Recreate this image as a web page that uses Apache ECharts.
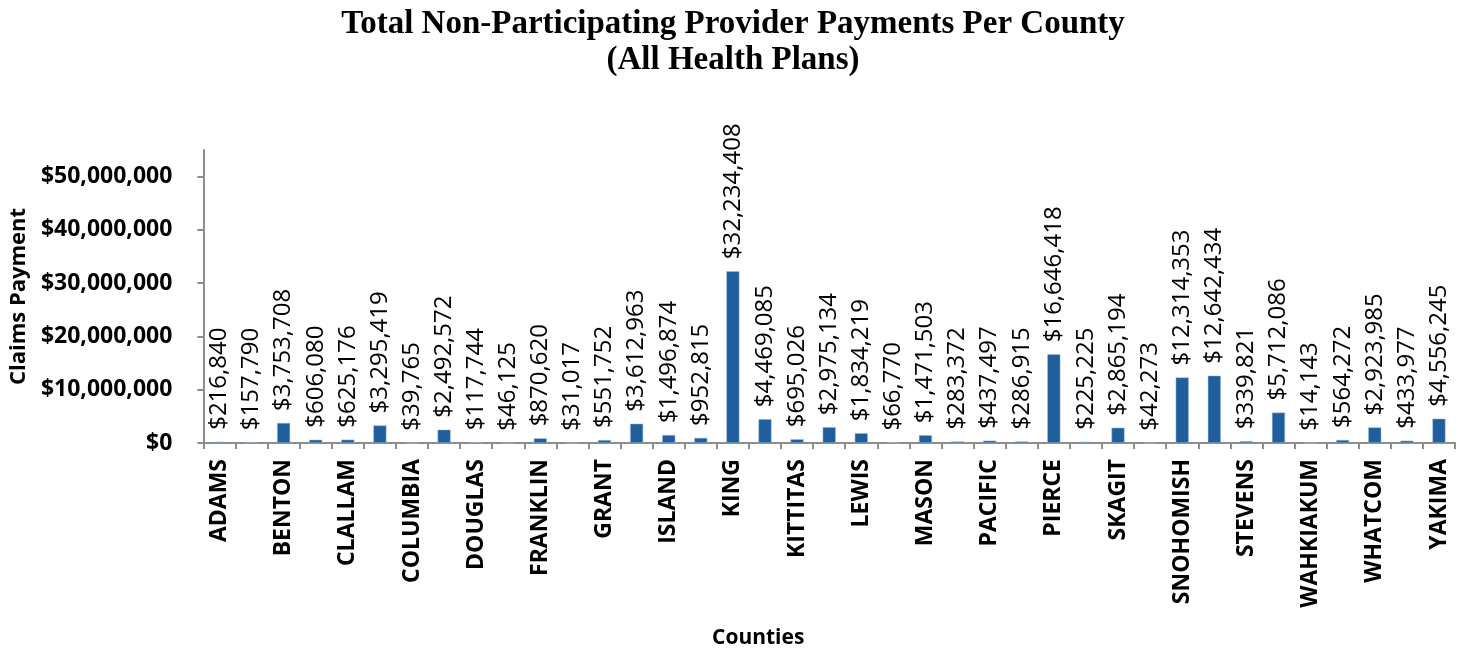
<!DOCTYPE html>
<html>
<head>
    <meta charset="utf-8">
    <title>Non-Participating Provider Payments</title>
    <script src="https://cdn.jsdelivr.net/npm/echarts@6/dist/echarts.min.js"></script>
    <style>
        html, body { margin: 0; padding: 0; background: #fff; }
    </style>
</head>
<body>
    <div id="main" style="width: 1466px;height:652px;"></div>
    <script type="text/javascript">
        // all 39 WA counties, only every other one gets a label on the axis
        var counties = [
            'ADAMS', 'ASOTIN', 'BENTON', 'CHELAN', 'CLALLAM', 'CLARK', 'COLUMBIA', 'COWLITZ',
            'DOUGLAS', 'FERRY', 'FRANKLIN', 'GARFIELD', 'GRANT', 'GRAYS HARBOR', 'ISLAND',
            'JEFFERSON', 'KING', 'KITSAP', 'KITTITAS', 'KLICKITAT', 'LEWIS', 'LINCOLN', 'MASON',
            'OKANOGAN', 'PACIFIC', 'PEND OREILLE', 'PIERCE', 'SAN JUAN', 'SKAGIT', 'SKAMANIA',
            'SNOHOMISH', 'SPOKANE', 'STEVENS', 'THURSTON', 'WAHKIAKUM', 'WALLA WALLA', 'WHATCOM',
            'WHITMAN', 'YAKIMA'
        ];
        var payments = [
            216840, 157790, 3753708, 606080, 625176, 3295419, 39765, 2492572,
            117744, 46125, 870620, 31017, 551752, 3612963, 1496874,
            952815, 32234408, 4469085, 695026, 2975134, 1834219, 66770, 1471503,
            283372, 437497, 286915, 16646418, 225225, 2865194, 42273,
            12314353, 12642434, 339821, 5712086, 14143, 564272, 2923985,
            433977, 4556245
        ];
        var yTicks = [0, 10000000, 20000000, 30000000, 40000000, 50000000];

        function money(v) {
            return '$' + Math.round(v).toString().replace(/\B(?=(\d{3})+(?!\d))/g, ',');
        }

        var chartDom = document.getElementById('main');
        var myChart = echarts.init(chartDom);
        var option;

        option = {
            animation: false,
            title: {
                text: 'Total Non-Participating Provider Payments Per County\n(All Health Plans)',
                left: 'center',
                top: 1,
                textStyle: {
                    fontFamily: 'Liberation Serif',
                    fontWeight: 'bold',
                    fontSize: 33,
                    lineHeight: 36,
                    color: '#000'
                }
            },
            grid: {
                left: 197,
                right: 11,
                top: 150,
                bottom: 209,
                containLabel: false
            },
            xAxis: {
                type: 'category',
                data: counties,
                name: 'Counties',
                nameLocation: 'middle',
                nameGap: 185,
                nameTextStyle: {
                    fontFamily: 'Open Sans',
                    fontWeight: 'bold',
                    fontSize: 21,
                    color: '#000',
                    padding: [0, 142, 0, 0]
                },
                axisLine: { lineStyle: { color: '#8c8c8c', width: 2 } },
                axisTick: {
                    show: true,
                    interval: 0,
                    length: 6,
                    lineStyle: { color: '#8c8c8c', width: 2 }
                },
                axisLabel: {
                    interval: 1,
                    rotate: 90,
                    margin: 16,
                    fontFamily: 'Open Sans',
                    fontWeight: 'bold',
                    fontSize: 23,
                    color: '#000'
                }
            },
            yAxis: {
                type: 'value',
                min: 0,
                max: 55000000,
                interval: 10000000,
                name: 'Claims Payment',
                nameLocation: 'middle',
                nameGap: 172,
                nameTextStyle: {
                    fontFamily: 'Open Sans',
                    fontWeight: 'bold',
                    fontSize: 22,
                    color: '#000'
                },
                splitLine: { show: false },
                axisLine: { show: true, lineStyle: { color: '#8c8c8c', width: 2 } },
                axisTick: {
                    show: true,
                    length: 6,
                    customValues: yTicks,
                    lineStyle: { color: '#8c8c8c', width: 2 }
                },
                axisLabel: {
                    margin: 31,
                    customValues: yTicks,
                    fontFamily: 'Open Sans',
                    fontWeight: 'bold',
                    fontSize: 23,
                    color: '#000',
                    formatter: money
                }
            },
            series: [{
                type: 'bar',
                name: 'Claims Payment',
                data: payments,
                barWidth: 13,
                itemStyle: {
                    color: '#1f5f9e',
                    borderColor: '#9fbad6',
                    borderWidth: 0.5
                },
                label: {
                    show: true,
                    position: 'top',
                    rotate: 90,
                    align: 'left',
                    verticalAlign: 'middle',
                    distance: 12,
                    fontFamily: 'Open Sans',
                    fontSize: 24,
                    color: '#000',
                    formatter: function (p) { return money(p.value); }
                }
            }]
        };

        option && myChart.setOption(option);
    </script>
</body>
</html>
